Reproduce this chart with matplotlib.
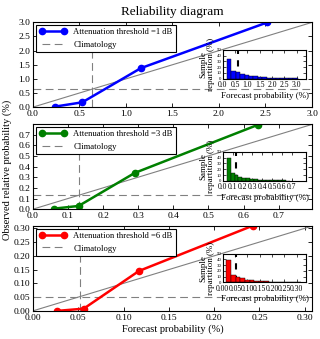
import matplotlib
matplotlib.use("Agg")
import matplotlib.pyplot as plt
import numpy as np

plt.rcParams["font.family"] = ["Liberation Serif", "DejaVu Serif"]
plt.rcParams["xtick.direction"] = "in"
plt.rcParams["ytick.direction"] = "in"
plt.rcParams["xtick.top"] = True
plt.rcParams["ytick.right"] = True

# ── Data ──────────────────────────────────────────────────────────────────────
thresholds = [1, 3, 6]
colors = ["blue", "green", "red"]

fcst_1 = [0.24, 0.53, 1.16, 2.52]
obs_1 = [0.02, 0.17, 1.38, 3.0]
fcst_3 = [0.06, 0.13, 0.29, 0.64]
obs_3 = [0.005, 0.03, 0.34, 0.79]
fcst_6 = [0.027, 0.056, 0.117, 0.243]
obs_6 = [0.0, 0.008, 0.145, 0.31]

climatology = [0.64, 0.13, 0.052]
axis_max = [3.0, 0.795, 0.308]
tick_step = [0.5, 0.1, 0.05]
tick_fmt = ["%.1f", "%.1f", "%.2f"]

# inset histograms: bin start, bin width, heights (%)
hist_start = [0.17, 0.04, 0.015]
hist_width = [0.18, 0.04, 0.019]
hist_1 = [35, 14, 11, 8, 6, 5, 4, 3.2, 2.6, 2, 1.6, 1.3, 1.0, 0.8, 0.6, 0.5]
hist_3 = [40, 14, 10, 7, 5, 4, 3, 2.5, 2, 1.5, 1.2, 1, 0.8, 0.6, 0.5, 0.4]
hist_6 = [39, 13, 9, 7, 5, 4, 3, 2.3, 1.8, 1.4, 1.0, 0.8, 0.6, 0.5, 0.4, 0.3]
inset_xmax = [3.4, 0.85, 0.34]
inset_step = [0.5, 0.1, 0.05]

fcsts = [fcst_1, fcst_3, fcst_6]
obss = [obs_1, obs_3, obs_6]
hists = [hist_1, hist_3, hist_6]

fig = plt.figure(figsize=(3.2, 3.39), dpi=100)
bottoms = [0.684, 0.383, 0.083]

for i in range(3):
    ax = fig.add_axes([0.103, bottoms[i], 0.872, 0.25])
    m = axis_max[i]
    ax.plot([0, m * 1.05], [0, m * 1.05], color="gray", lw=0.8)
    ax.axvline(climatology[i], color="gray", ls=(0, (7, 4)), lw=0.8)
    ax.axhline(climatology[i], color="gray", ls=(0, (7, 4)), lw=0.8)
    ax.plot(fcsts[i], obss[i], "-o", color=colors[i], lw=1.8, ms=4.5,
            label="Attenuation threshold =%d dB" % thresholds[i])
    ax.plot([], [], color="gray", ls=(0, (7, 4)), lw=0.8, label="Climatology")
    ax.set_xlim(0, m)
    ax.set_ylim(0, m)
    ticks = np.arange(0, m + 1e-6, tick_step[i])
    ax.set_xticks(ticks)
    ax.set_yticks(ticks)
    ax.set_xticklabels([tick_fmt[i] % t for t in ticks])
    ax.set_yticklabels([tick_fmt[i] % t for t in ticks])
    ax.tick_params(labelsize=6.8, length=3, width=0.6, pad=2)
    for s in ax.spines.values():
        s.set_linewidth(0.8)
    leg = ax.legend(loc="upper left", fontsize=6.2, numpoints=2, fancybox=False,
                    framealpha=1, edgecolor="black", handlelength=3.2,
                    borderpad=0.4, labelspacing=0.5, borderaxespad=0.3)
    leg.get_frame().set_linewidth(0.8)

    if i == 0:
        ax.set_title("Reliability diagram", fontsize=9.5, pad=5)
    if i == 2:
        ax.set_xlabel("Forecast probability (%)", fontsize=7.5, labelpad=2)

    # inset histogram
    ins = ax.inset_axes([0.68, 0.335, 0.30, 0.34])
    h = hists[i]
    lefts = [hist_start[i] + k * hist_width[i] for k in range(len(h))]
    ins.axvline(climatology[i], color="black", ls=(0, (3, 3)), lw=1.5, zorder=1)
    ins.bar(lefts, h, width=hist_width[i], align="edge", color=colors[i],
            edgecolor="black", lw=0.3, zorder=2)
    ins.set_xlim(0, inset_xmax[i])
    ins.set_ylim(0, 50)
    ins.set_yticks([0, 10, 20, 30, 40, 50])
    xt = np.arange(0, axis_max[i] + 1e-6, inset_step[i])
    ins.set_xticks(xt)
    ins.set_xticklabels([tick_fmt[i] % t for t in xt])
    ins.tick_params(axis="x", labelsize=5.5, length=2.5, width=0.5, pad=1.5)
    ins.tick_params(axis="y", labelsize=3.5, length=2.5, width=0.5, pad=1)
    ins.set_xlabel("Forecast probability (%)", fontsize=6.5, labelpad=2)
    ins.set_ylabel("Sample\nrepartition (%)", fontsize=6.5, labelpad=1,
                   linespacing=0.9)
    for s in ins.spines.values():
        s.set_linewidth(0.8)

fig.text(0.022, 0.5, "Observed relative probability (%)", rotation=90,
         ha="center", va="center", fontsize=7.5)

fig.savefig("out.png", dpi=100)
